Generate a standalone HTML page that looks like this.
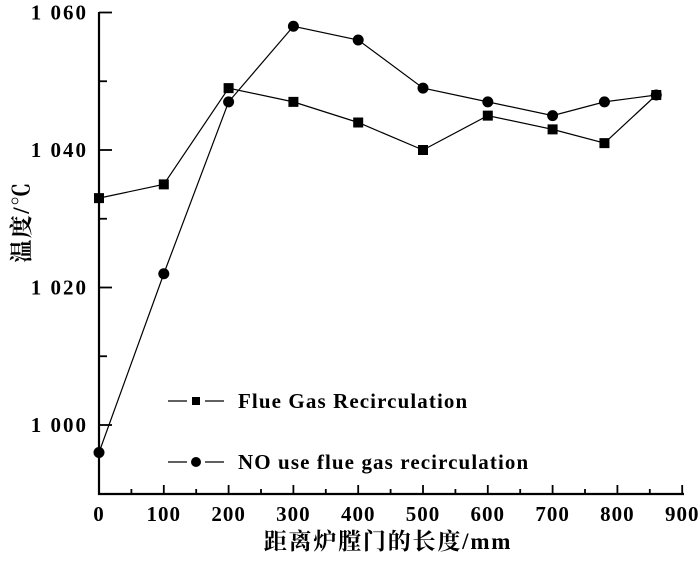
<!DOCTYPE html>
<html><head><meta charset="utf-8"><style>
body{margin:0;background:#fff}
svg text{font-family:"Liberation Serif","Noto Serif CJK SC",serif;fill:#000;font-weight:bold}
</style></head><body>
<svg id="chart" width="700" height="556" xmlns="http://www.w3.org/2000/svg"></svg>
<script>
const xValues=[0,100,200,300,400,500,600,700,780,860];
const seriesFGR=[1033,1035,1049,1047,1044,1040,1045,1043,1041,1048];
const seriesNO=[996,1022,1047,1058,1056,1049,1047,1045,1047,1048];
const xTicks=[0,100,200,300,400,500,600,700,800,900];
const yTicks=[1000,1020,1040,1060];
const yTickLabels=["1 000","1 020","1 040","1 060"];
const legendLabels=["Flue Gas Recirculation","NO use flue gas recirculation"];

const svg=document.getElementById('chart');
const NS='http://www.w3.org/2000/svg';
const X=v=>99+v*0.648;
const Y=v=>150-(v-1040)*6.875;
function mk(tag,attrs,parent){const e=document.createElementNS(NS,tag);for(const k in attrs)e.setAttribute(k,attrs[k]);(parent||svg).appendChild(e);return e;}
const axes=mk('g',{});


mk('path',{d:`M99,12 V494 H684`,fill:'none',stroke:'#000','stroke-width':2.2},axes);
for(let v=0;v<=900;v+=50){const t=mk('line',{x1:X(v),x2:X(v),y1:494,y2:v%100?489:485,stroke:'#000','stroke-width':1.8},axes);

}
for(let v=1000;v<=1060;v+=10){const t=mk('line',{x1:99,x2:v%20?107:112,y1:Y(v),y2:Y(v),stroke:'#000','stroke-width':1.8},axes);

}
xTicks.forEach(v=>{const t=mk('text',{x:X(v),y:521,'text-anchor':'middle','font-size':21,'letter-spacing':1},axes);t.textContent=v;

});
yTicks.forEach((v,i)=>{const t=mk('text',{x:88,y:Y(v)+7,'text-anchor':'end','font-size':21,'letter-spacing':2},axes);t.textContent=yTickLabels[i];

});
const xt=mk('text',{x:388,y:549,'text-anchor':'middle','font-size':23,'letter-spacing':1.8});xt.textContent='距离炉膛门的长度/mm';


const yt=mk('text',{x:0,y:0,'text-anchor':'middle','font-size':23,'letter-spacing':1.5,transform:'translate(29,222) rotate(-90)'});yt.textContent='温度/℃';



function series(vals,shape,name){
  const g=mk('g',{});
  
  
  mk('polyline',{points:vals.map((v,i)=>X(xValues[i])+','+Y(v)).join(' '),fill:'none',stroke:'#000','stroke-width':1.2},g);
  vals.forEach((v,i)=>{let m;
    if(shape==='sq')m=mk('rect',{x:X(xValues[i])-5,y:Y(v)-5,width:10,height:10,fill:'#000'},g);
    else m=mk('circle',{cx:X(xValues[i]),cy:Y(v),r:5.5,fill:'#000'},g);
    
    });
}
series(seriesFGR,'sq','series-flue-gas-recirculation');
series(seriesNO,'ci','series-no-recirculation');

[[401,'sq'],[462,'ci']].forEach((p,i)=>{
  const g=mk('g',{});
  
  
  mk('line',{x1:168,x2:187,y1:p[0],y2:p[0],stroke:'#000','stroke-width':1.2},g);
  mk('line',{x1:205,x2:224,y1:p[0],y2:p[0],stroke:'#000','stroke-width':1.2},g);
  if(p[1]==='sq')mk('rect',{x:192,y:p[0]-4,width:8,height:8,fill:'#000'},g);
  else mk('circle',{cx:196,cy:p[0],r:5,fill:'#000'},g);
  const t=mk('text',{x:238,y:p[0]+7,'font-size':21,'letter-spacing':1.1},g);t.textContent=legendLabels[i];
});
</script>
</body></html>
